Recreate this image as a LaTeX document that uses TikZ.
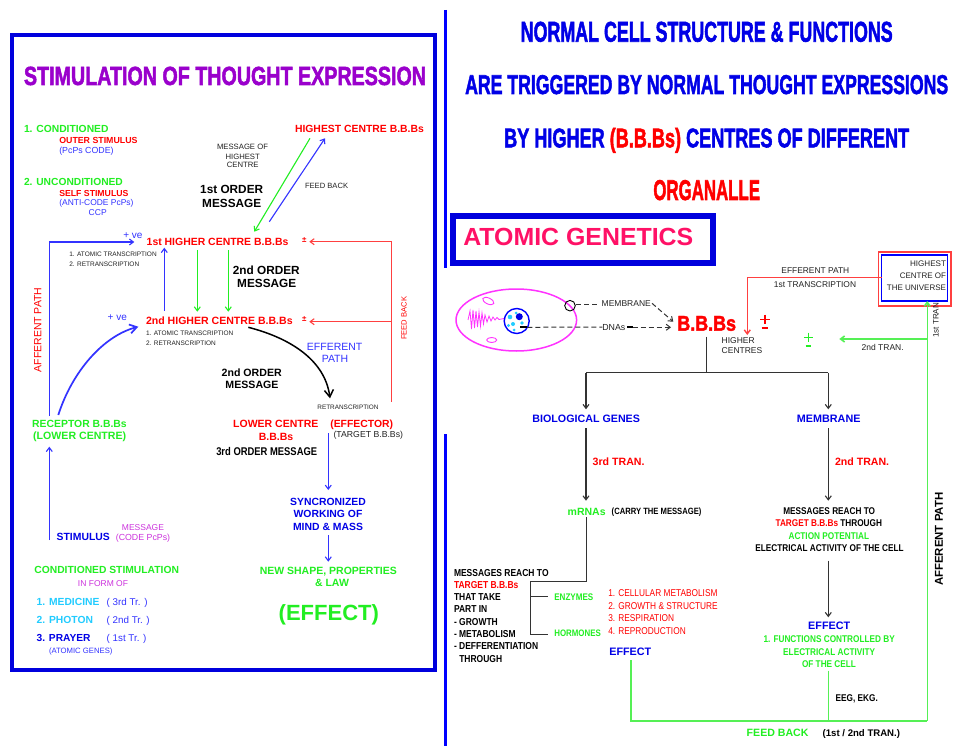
\documentclass[tikz,border=0pt]{standalone}
\usepackage{fontspec}
\setmainfont{Liberation Sans}
\newfontfamily\narrowf[FakeStretch=0.84]{Liberation Sans}
\newfontfamily\heavyf{Liberation Sans Bold}[FakeBold=2.2]
\usepackage{graphicx}
\usetikzlibrary{arrows.meta}
\definecolor{gr}{HTML}{22EE22}
\definecolor{grl}{HTML}{55F055}
\definecolor{rd}{HTML}{FF0000}
\definecolor{rdl}{HTML}{FF4040}
\definecolor{bl}{HTML}{0000FF}
\definecolor{bld}{HTML}{0000E6}
\definecolor{bll}{HTML}{3333FF}
\definecolor{bbox}{HTML}{0000DD}
\definecolor{purp}{HTML}{9A00CC}
\definecolor{lilac}{HTML}{CC33DD}
\definecolor{cyn}{HTML}{22CCFF}
\definecolor{pinkr}{HTML}{FF1166}
\definecolor{mag}{HTML}{FF33FF}
\definecolor{dk}{HTML}{222222}
\definecolor{gy}{HTML}{333333}
\newcommand\fb[1]{\fontsize{#1}{#1}\selectfont\bfseries}
\newcommand\fr[1]{\fontsize{#1}{#1}\selectfont}
\newcommand\nb[1]{\narrowf\fontsize{#1}{#1}\selectfont\bfseries}
\newcommand\nr[1]{\narrowf\fontsize{#1}{#1}\selectfont}
\newcommand\fitbox[3]{\resizebox{#1pt}{#2pt}{\heavyf #3}}
\begin{document}
\begin{tikzpicture}[x=1pt,y=-1pt,
  tx/.style={inner sep=0pt,outer sep=0pt},
  bw/.style={tx,anchor=base west},
  bc/.style={tx,anchor=base},
  be/.style={tx,anchor=base east},
  arr/.style={-{Straight Barb[length=4pt,width=6pt]}},
  bigarr/.style={-{Straight Barb[length=7pt,width=9pt]}},
  bline/.style={bll,line width=1.1pt},
  gline/.style={gr,line width=1.1pt},
  rline/.style={rdl,line width=1.1pt},
  kline/.style={gy,line width=1.1pt},
  dline/.style={gy,line width=1pt,dash pattern=on 5pt off 3pt},
  glline/.style={grl,line width=1.6pt}]
\fill[white] (0,0) rectangle (953,746);
\path[use as bounding box] (0,0) rectangle (953,746);

% ================= LEFT PANEL =================
\draw[bbox,line width=4pt] (11.7,35.3) rectangle (435,669.7);
\node[bc,text=purp] (ltitle) at (225,85) {\fitbox{402}{18.3}{STIMULATION OF THOUGHT EXPRESSION}};

\node[bw,text=gr,font=\fb{10.3}] (cond) at (24,132.7) {1. CONDITIONED};
\node[bw,text=rd,font=\fb{8.8}] (outer) at (59.3,144) {OUTER STIMULUS};
\node[bw,text=bll,font=\fr{8.8}] (pcps) at (59.3,153.5) {(PcPs CODE)};
\node[bw,text=gr,font=\fb{10.25}] (uncond) at (24,185.7) {2. UNCONDITIONED};
\node[bw,text=rd,font=\fb{8.7}] (self) at (59.3,196.7) {SELF STIMULUS};
\node[bw,text=bll,font=\fr{8.45}] (anti) at (59.3,205.7) {(ANTI-CODE PcPs)};
\node[bc,text=bll,font=\fr{8.5}] (ccp) at (97.7,215.5) {CCP};

\node[bw,text=rd,font=\fb{10.4}] (highest) at (295,132.7) {HIGHEST CENTRE B.B.Bs};
\node[bc,text=dk,font=\fr{7.7}] (moh1) at (242.5,150) {MESSAGE OF};
\node[bc,text=dk,font=\fr{7.7}] (moh2) at (242.7,159.3) {HIGHEST};
\node[bc,text=dk,font=\fr{7.7}] (moh3) at (242.7,168) {CENTRE};
\node[bc,text=black,font=\fb{11.8}] (fo1) at (231.7,193.3) {1st ORDER};
\node[bc,text=black,font=\fb{11.8}] (fo2) at (231.7,207.3) {MESSAGE};
\node[bw,text=dk,font=\fr{7.6}] (fb1) at (305,188.3) {FEED BACK};

\coordinate (g1s) at (310,138.3);
\coordinate (g1e) at (254.3,231.7);
\draw[gline,arr] (g1s) -- (g1e);
\coordinate (b1s) at (269.3,221.7);
\coordinate (b1e) at (325,138.3);
\draw[bline,arr] (b1s) -- (b1e);

\node[bw,text=rd,font=\fb{10.45}] (h1) at (146.7,245.7) {1st HIGHER CENTRE B.B.Bs};
\node[bc,text=rd,font=\fb{8}] (pm1) at (304.3,242) {±};
\node[bw,text=bll,font=\fr{10}] (ve1) at (123.3,239) {+ ve};
\node[bw,text=dk,font=\fr{6.5}] (at1) at (69.3,256.7) {1. ATOMIC TRANSCRIPTION};
\node[bw,text=dk,font=\fr{6.5}] (rt1) at (69.3,266) {2. RETRANSCRIPTION};

\node[bc,text=black,font=\fb{11.8}] (so1) at (266.3,274) {2nd ORDER};
\node[bc,text=black,font=\fb{11.8}] (so2) at (266.7,287.7) {MESSAGE};

\node[bw,text=rd,font=\fb{10.56}] (h2) at (146,324) {2nd HIGHER CENTRE B.B.Bs};
\node[bc,text=rd,font=\fb{8}] (pm2) at (304.3,321) {±};
\node[bw,text=bll,font=\fr{10}] (ve2) at (107.7,320) {+ ve};
\node[bw,text=dk,font=\fr{6.5}] (at2) at (146,335) {1. ATOMIC TRANSCRIPTION};
\node[bw,text=dk,font=\fr{6.5}] (rt2) at (146,345) {2. RETRANSCRIPTION};

% afferent path (left)
\coordinate (afs) at (49.3,416);
\coordinate (afc) at (49.3,242);
\coordinate (afe) at (134.3,242);
\draw[bline,arr] (afs) -- (afc) -- (afe);
\node[tx,text=rd,font=\fr{10.5},rotate=90] (aff1) at (37.7,330) {AFFERENT PATH};

\coordinate (b2s) at (164.3,310.7);
\coordinate (b2e) at (164.3,247.7);
\draw[bline,arr] (b2s) -- (b2e);
\coordinate (g2s) at (197.3,250);
\coordinate (g2e) at (197.3,311.7);
\draw[gline,arr] (g2s) -- (g2e);
\coordinate (g3s) at (228.3,250);
\coordinate (g3e) at (228.3,311.7);
\draw[gline,arr] (g3s) -- (g3e);

% feedback (red)
\coordinate (fbb) at (391.7,401.7);
\coordinate (fbt) at (391.7,241.7);
\coordinate (fbm) at (391.7,321.7);
\coordinate (fa1) at (309.3,241.7);
\coordinate (fa2) at (309.3,321.7);
\draw[rline] (fbb) -- (fbt);
\draw[rline,arr] (fbt) -- (fa1);
\draw[rline,arr] (fbm) -- (fa2);
\node[tx,text=rd,font=\fr{7.6},rotate=90] (fb2) at (404,318.3) {FEED BACK};

% curves
\coordinate (rc) at (58.3,415);
\coordinate (rcEnd) at (138.3,326.7);
\draw[bll,line width=1.7pt,bigarr] (rc) .. controls (72,372) and (103,336) .. (rcEnd);
\coordinate (kcS) at (248.3,327.3);
\coordinate (kcE) at (330,398.3);
\draw[black,line width=1.5pt,bigarr] (kcS) .. controls (290,338) and (325,360) .. (kcE);

\node[bc,text=bll,font=\fr{10.5}] (ep1) at (334.7,350) {EFFERENT};
\node[bc,text=bll,font=\fr{10.5}] (ep2) at (335,362.3) {PATH};
\node[bc,text=black,font=\fb{10.6}] (som1) at (251.7,376.7) {2nd ORDER};
\node[bc,text=black,font=\fb{10.6}] (som2) at (252,388.3) {MESSAGE};
\node[bc,text=dk,font=\fr{6.4}] (retr) at (348,409.3) {RETRANSCRIPTION};

\node[bc,text=gr,font=\fb{10.4}] (rec1) at (79.5,427.3) {RECEPTOR B.B.Bs};
\node[bc,text=gr,font=\fb{10.6}] (rec2) at (79.7,439.5) {(LOWER CENTRE)};
\node[bc,text=rd,font=\fb{10.5}] (lc1) at (275.8,427.3) {LOWER CENTRE};
\node[bc,text=rd,font=\fb{10.4}] (effr) at (361.7,427.3) {(EFFECTOR)};
\node[bc,text=rd,font=\fb{10.5}] (lc2) at (276,440) {B.B.Bs};
\node[bc,text=dk,font=\fr{8.7}] (tgt) at (368.3,437.5) {(TARGET B.B.Bs)};
\node[bc,text=black,font=\nb{11.2}] (tom) at (266.7,455) {3rd ORDER MESSAGE};

\coordinate (v1s) at (328.3,433.3);
\coordinate (v1e) at (328.3,490);
\draw[bline,arr] (v1s) -- (v1e);
\node[bc,text=bld,font=\fb{10.4}] (syn1) at (328,505.7) {SYNCRONIZED};
\node[bc,text=bld,font=\fb{10.4}] (syn2) at (328,517.3) {WORKING OF};
\node[bc,text=bld,font=\fb{10.4}] (syn3) at (328,530) {MIND \& MASS};
\coordinate (v2s) at (328.3,535);
\coordinate (v2e) at (328.3,561.7);
\draw[bline,arr] (v2s) -- (v2e);
\node[bc,text=gr,font=\fb{10.5}] (nsp1) at (328.3,574) {NEW SHAPE, PROPERTIES};
\node[bc,text=gr,font=\fb{10.5}] (nsp2) at (332,586) {\& LAW};
\node[bc,text=gr,font=\fb{22}] (effL) at (328.8,620) {(EFFECT)};

\coordinate (stS) at (49.3,540);
\coordinate (stE) at (49.3,446.7);
\draw[bline,arr] (stS) -- (stE);
\node[bw,text=bld,font=\fb{10.4}] (stim) at (56.7,540.7) {STIMULUS};
\node[bc,text=lilac,font=\fr{8.5}] (msgp) at (143,530) {MESSAGE};
\node[bc,text=lilac,font=\fr{8.8}] (codep) at (143,540) {(CODE PcPs)};

\node[bc,text=gr,font=\fb{10.3}] (cs) at (106.7,573.3) {CONDITIONED STIMULATION};
\node[bc,text=lilac,font=\fr{8.5}] (ifo) at (103,586) {IN FORM OF};
\node[bw,text=cyn,font=\fb{10.3}] (med) at (36.7,605) {1. MEDICINE};
\node[bw,text=bll,font=\fr{9.8}] (medt) at (106.7,605) {( 3rd Tr. )};
\node[bw,text=cyn,font=\fb{10.3}] (pho) at (36.7,623.3) {2. PHOTON};
\node[bw,text=bll,font=\fr{9.8}] (phot) at (106.7,623.3) {( 2nd Tr. )};
\node[bw,text=bld,font=\fb{10.2}] (pra) at (36.7,641.7) {3. PRAYER};
\node[bw,text=bll,font=\fr{9.8}] (prat) at (106.7,641.7) {( 1st Tr. )};
\node[bw,text=bll,font=\fr{7.7}] (agn) at (49,653.3) {(ATOMIC GENES)};

% ================= RIGHT PANEL =================
\draw[bl,line width=3pt] (445.5,10) -- (445.5,268);
\draw[bl,line width=3pt] (445.5,434) -- (445.5,746);

\node[bc,text=bld] (rt1l) at (706.7,41.7) {\fitbox{372}{20}{NORMAL CELL STRUCTURE \& FUNCTIONS}};
\node[bc,text=bld] (rt2l) at (706.7,94) {\fitbox{483}{19}{ARE TRIGGERED BY NORMAL THOUGHT EXPRESSIONS}};
\node[bc,text=bld] (rt3l) at (706.7,147.3) {\fitbox{405}{19.5}{BY HIGHER \textcolor{rd}{(B.B.Bs)} CENTRES OF DIFFERENT}};
\node[bc,text=rd] (rt4l) at (706.7,200) {\fitbox{106.7}{20}{ORGANALLE}};

\draw[bbox,line width=6pt] (452.7,216.2) rectangle (712.5,263.3);
\node[bw,text=pinkr] (atg) at (463.3,245) {\resizebox{230pt}{17.3pt}{\bfseries ATOMIC GENETICS}};

% cell
\draw[mag,line width=1.5pt] (516.3,320) ellipse [x radius=60.3,y radius=31];
\draw[mag,line width=0.8pt] (468,320) -- (470,311) -- (471.5,329) -- (473,310) -- (474.5,328) -- (476,311) -- (477.5,327) -- (479,312) -- (480.5,326) -- (482,313) -- (483.5,324) -- (485,315) -- (487,322) -- (489,316) -- (491,321) -- (493,317) -- (495,320) -- (497,317.5) -- (499,319.5) -- (504,318.5);
\draw[mag,line width=0.9pt,rotate around={-25:(488.3,301)}] (488.3,301) ellipse [x radius=6,y radius=3];
\draw[mag,line width=0.9pt] (491.7,340) ellipse [x radius=5,y radius=2.5];
\fill[cyn] (510,317) circle (2.3);
\fill[cyn] (513,324) circle (2);
\fill[cyn] (508.5,325.5) circle (1.6);
\fill[cyn] (522,323) circle (1.8);
\fill[cyn] (514,330) circle (1.5);
\fill[cyn] (516,313) circle (1.5);
\draw[bl,line width=1.4pt] (516.7,321) circle (12.5);
\fill[bld] (519.3,316.7) circle (3.5);
\draw[black,line width=0.9pt] (570,305.7) circle (5.3);

\coordinate (dnaS) at (520,327.3);
\coordinate (dnaM) at (527.3,327.3);
\node[bw,text=dk,font=\fr{8.8}] (dnas) at (602.3,330) {DNAs};
\node[bw,text=dk,font=\fr{8.5}] (memb) at (601.7,306.7) {MEMBRANE};
\node[bc,text=rd] (bbbs) at (706.7,330.7) {\fitbox{58.7}{14.7}{B.B.Bs}};
\draw[black,line width=2pt] (dnaS) -- (dnaM);
\draw[dline] (dnaM) -- (dnas.west);
\coordinate (dk1) at (627.3,327.3);
\coordinate (dk2) at (632.7,327.3);
\coordinate (dnaE) at (671,327.3);
\draw[black,line width=2pt] (dk1) -- (dk2);
\draw[dline,arr] (dk2) -- (dnaE);
\coordinate (mbS) at (576,304);
\coordinate (mbL) at (598.3,304);
\coordinate (mb2) at (652,303.3);
\coordinate (mbE) at (673.3,321.7);
\draw[dline] (mbS) -- (mbL);
\draw[dline,arr] (mb2) -- (mbE);

% plus-minus signs
\draw[rd,line width=1.4pt] (760,319.3) -- (770,319.3) (765,314.5) -- (765,324.2);
\draw[rd,line width=1.8pt] (761.5,327.7) -- (768,327.7);
\draw[gr,line width=1.4pt] (803.8,337.3) -- (813,337.3) (808.3,332.7) -- (808.3,341.8);
\draw[gr,line width=1.8pt] (805.5,346) -- (811,346);

\node[bw,text=dk,font=\fr{8.5}] (hcs1) at (721.7,343.3) {HIGHER};
\node[bw,text=dk,font=\fr{8.5}] (hcs2) at (721.7,353.3) {CENTRES};

% highest centre of universe
\draw[rdl,line width=1.2pt] (878.5,252) rectangle (951,306);
\draw[bl,line width=1.2pt] (881.5,255) rectangle (947.5,301);
\node[be,text=dk,font=\fr{8.1}] (hu1) at (946,266) {HIGHEST};
\node[be,text=dk,font=\fr{8}] (hu2) at (946,278) {CENTRE OF};
\node[be,text=dk,font=\fr{8}] (hu3) at (946,290) {THE UNIVERSE};

\coordinate (efS) at (881.5,277.3);
\coordinate (efC) at (747.3,277.3);
\coordinate (efE) at (747.3,335);
\draw[rdl,line width=1.4pt,arr] (efS) -- (efC) -- (efE);
\node[bc,text=dk,font=\fr{8.4}] (efp) at (815.3,273.3) {EFFERENT PATH};
\node[bc,text=dk,font=\fr{8.4}] (f1t) at (815,287.3) {1st TRANSCRIPTION};

\coordinate (gvB) at (927.3,720.7);
\coordinate (gvT) at (927.3,301);
\coordinate (g2a) at (927.3,339);
\coordinate (g2b) at (839.3,339);
\draw[glline,arr] (gvB) -- (gvT);
\draw[glline,arr] (g2a) -- (g2b);
\node[bw,text=dk,font=\fr{8.5}] (t2n) at (861.7,350.7) {2nd TRAN.};
\node[tx,text=dk,font=\fr{8},rotate=90] (t1n) at (936,319.2) {1st TRAN.};

% tree
\coordinate (stT) at (706.7,336.7);
\coordinate (stB) at (706.7,372.7);
\coordinate (trL) at (586,372.7);
\coordinate (trR) at (828.3,372.7);
\coordinate (trLe) at (586,409.3);
\coordinate (trRe) at (828.3,409.3);
\draw[kline] (stT) -- (stB);
\draw[kline] (trL) -- (trR);
\draw[kline,arr] (trL) -- (trLe);
\draw[kline,arr] (trR) -- (trRe);
\node[bc,text=bld,font=\fb{10.7}] (bio) at (586.2,422.3) {BIOLOGICAL GENES};
\node[bc,text=bld,font=\fb{10.8}] (mem2) at (828.7,422.3) {MEMBRANE};

\coordinate (l3s) at (586,428.3);
\coordinate (l3e) at (586,500.7);
\draw[kline,arr] (l3s) -- (l3e);
\coordinate (r2s) at (828.3,428.3);
\coordinate (r2e) at (828.3,500.7);
\draw[kline,arr] (r2s) -- (r2e);
\node[bw,text=rd,font=\fb{10.6}] (t3) at (592.7,465) {3rd TRAN.};
\node[bw,text=rd,font=\fb{10.6}] (t2) at (835,465) {2nd TRAN.};

\node[bw,text=gr,font=\fb{10.5}] (mrna) at (567.7,515) {mRNAs};
\node[bw,text=black,font=\nb{9.1}] (carry) at (611.7,514.5) {(CARRY THE MESSAGE)};

\coordinate (mS) at (586.7,517.3);
\coordinate (mC) at (586.7,581.7);
\coordinate (bkT) at (530.7,581.7);
\coordinate (bkB) at (530.7,634.3);
\coordinate (bkE) at (548.3,634.3);
\coordinate (bkM) at (530.7,596.7);
\coordinate (bkME) at (548.3,596.7);
\draw[kline] (mS) -- (mC) -- (bkT) -- (bkB) -- (bkE);
\draw[kline] (bkM) -- (bkME);
\node[bw,text=gr,font=\nb{9.6}] (enz) at (554.3,600) {ENZYMES};
\node[bw,text=gr,font=\nb{9.4}] (hor) at (554.3,636.7) {HORMONES};

\node[bw,text=black,font=\nb{10.1}] (mr1) at (454,576) {MESSAGES REACH TO};
\node[bw,text=rd,font=\nb{10.1}] (mr2) at (454,588.3) {TARGET B.B.Bs};
\node[bw,text=black,font=\nb{10.1}] (mr3) at (454,600.7) {THAT TAKE};
\node[bw,text=black,font=\nb{10.1}] (mr4) at (454,612.3) {PART IN};
\node[bw,text=black,font=\nb{10.1}] (mr5) at (454,625) {- GROWTH};
\node[bw,text=black,font=\nb{10.1}] (mr6) at (454,637.3) {- METABOLISM};
\node[bw,text=black,font=\nb{10.1}] (mr7) at (454,649.7) {- DEFFERENTIATION};
\node[bw,text=black,font=\nb{10.1}] (mr8) at (459.3,662) {THROUGH};

\node[bw,text=rd,font=\nr{9.9}] (rl1) at (608.3,596.7) {1. CELLULAR METABOLISM};
\node[bw,text=rd,font=\nr{9.9}] (rl2) at (608.3,609.3) {2. GROWTH \& STRUCTURE};
\node[bw,text=rd,font=\nr{9.9}] (rl3) at (608.3,621.7) {3. RESPIRATION};
\node[bw,text=rd,font=\nr{9.9}] (rl4) at (608.3,634.3) {4. REPRODUCTION};
\node[bw,text=bld,font=\fb{10.8}] (effA) at (609.3,655.7) {EFFECT};

\node[bc,text=black,font=\nb{9.8}] (rm1) at (829.2,514.3) {MESSAGES REACH TO};
\node[bc,text=black,font=\nb{9.8}] (rm2) at (828.8,526.7) {\textcolor{rd}{TARGET B.B.Bs} THROUGH};
\node[bc,text=gr,font=\nb{9.8}] (rm3) at (828.8,539.3) {ACTION POTENTIAL};
\node[bc,text=black,font=\nb{9.8}] (rm4) at (829.5,551.7) {ELECTRICAL ACTIVITY OF THE CELL};
\coordinate (rvS) at (828.3,560.7);
\coordinate (rvE) at (828.3,617.3);
\draw[kline,arr] (rvS) -- (rvE);
\node[bc,text=bld,font=\fb{10.8}] (effB) at (829.2,629) {EFFECT};
\node[bc,text=gr,font=\nb{9.8}] (fc1) at (829.2,642.7) {1. FUNCTIONS CONTROLLED BY};
\node[bc,text=gr,font=\nb{9.8}] (fc2) at (829.2,655) {ELECTRICAL ACTIVITY};
\node[bc,text=gr,font=\nb{9.8}] (fc3) at (829,667.3) {OF THE CELL};

\coordinate (eA) at (630.7,660);
\coordinate (eB) at (630.7,720.7);
\coordinate (eC) at (828.3,670.7);
\coordinate (eD) at (828.3,720.7);
\draw[glline] (eA) -- (eB) -- (gvB);
\draw[glline] (eC) -- (eD);
\node[bw,text=black,font=\nb{9.8}] (eeg) at (835.7,701.7) {EEG, EKG.};
\node[bw,text=gr,font=\fb{10.6}] (fbk) at (746.7,736.7) {FEED BACK};
\node[bw,text=black,font=\fb{9.6}] (fbt2) at (822.7,736.7) {(1st / 2nd TRAN.)};
\node[tx,text=black,font=\fb{11.4},rotate=90] (affR) at (939,539.2) {AFFERENT PATH};
\end{tikzpicture}
\end{document}
